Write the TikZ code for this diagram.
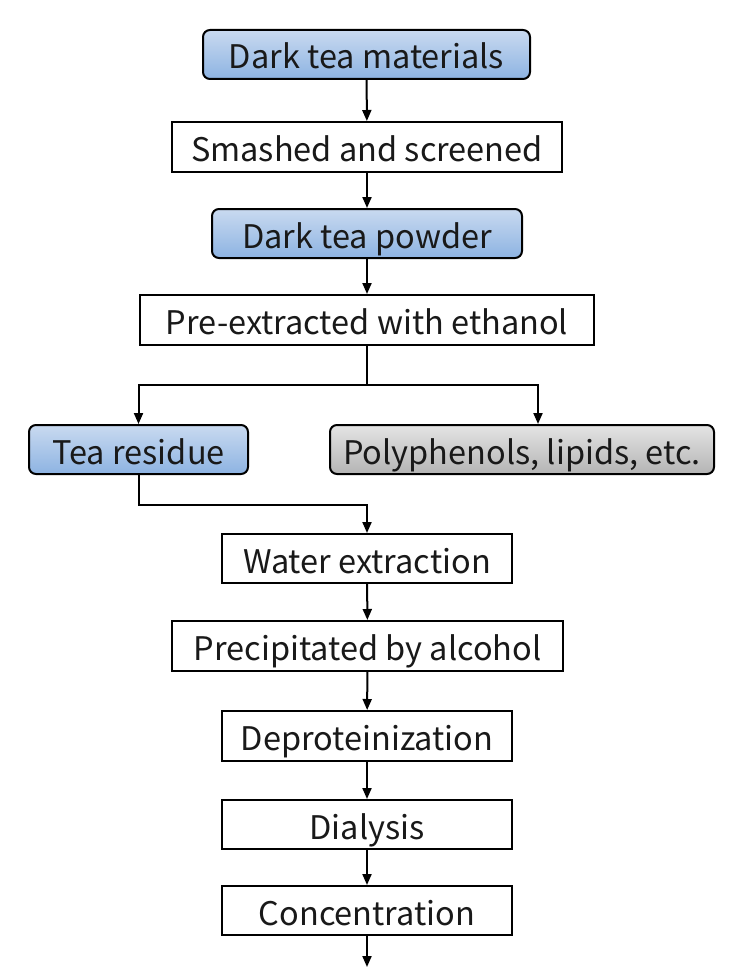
\documentclass[tikz,border=0pt]{standalone}
\usepackage{fontspec}
\setmainfont{Noto Sans CJK SC}
\usetikzlibrary{arrows.meta}
\definecolor{bluetop}{HTML}{C9DAF0}
\definecolor{bluebot}{HTML}{8DB3E2}
\definecolor{greytop}{HTML}{E4E4E4}
\definecolor{greybot}{HTML}{B4B4B4}
\tikzset{
  box/.style={draw=black, line width=2pt, inner sep=0pt, text height=33pt, text depth=4pt,
    font=\fontsize{32.5}{36}\selectfont, text=black!90},
  plainbox/.style={box, fill=white},
  bluebox/.style={box, rounded corners=7pt, top color=bluetop, bottom color=bluebot},
  greybox/.style={box, rounded corners=7pt, top color=greytop, bottom color=greybot},
  arr/.style={line width=2pt, -{Triangle[length=11pt,width=9pt]}},
  ln/.style={line width=2pt}
}
\begin{document}
\begin{tikzpicture}[x=1pt,y=-1pt]
\useasboundingbox (0,0) rectangle (741,971);
\node[bluebox, minimum width=327pt, minimum height=49pt] (n1) at (366.5,54.5) {Dark tea materials};
\node[plainbox, minimum width=390pt, minimum height=50pt] (n2) at (367,147) {Smashed and screened};
\node[bluebox, minimum width=310pt, minimum height=49pt] (n3) at (367,233.5) {Dark tea powder};
\node[plainbox, minimum width=454pt, minimum height=50pt] (n4) at (367,320) {Pre-extracted with ethanol};
\node[bluebox, minimum width=219pt, minimum height=49pt] (n5) at (138.5,449.5) {Tea residue};
\node[greybox, minimum width=384pt, minimum height=49pt] (n6) at (522,449.5) {Polyphenols, lipids, etc.};
\node[plainbox, minimum width=290pt, minimum height=49pt] (n7) at (367,558.5) {Water extraction};
\node[plainbox, minimum width=391pt, minimum height=50pt] (n8) at (367.5,646) {Precipitated by alcohol};
\node[plainbox, minimum width=290pt, minimum height=50pt] (n9) at (367,736) {Deproteinization};
\node[plainbox, minimum width=290pt, minimum height=49pt] (n10) at (367,824.5) {Dialysis};
\node[plainbox, minimum width=290pt, minimum height=49pt] (n11) at (367,910.5) {Concentration};
\coordinate (end) at (367,967);

\draw[arr] (n1) -- (n2);
\draw[arr] (n2) -- (n3);
\draw[arr] (n3) -- (n4);
\draw[ln] (n4.south) -- ++(0,39) coordinate (split);
\draw[arr] (split) -| (n5.north);
\draw[arr] (split) -| ([xshift=16pt]n6.north);
\draw[arr] (n5.south) -- ++(0,30) -| (n7.north);
\draw[arr] (n7) -- (n8);
\draw[arr] (n8) -- (n9);
\draw[arr] (n9) -- (n10);
\draw[arr] (n10) -- (n11);
\draw[arr] (n11) -- (end);
\end{tikzpicture}
\end{document}
